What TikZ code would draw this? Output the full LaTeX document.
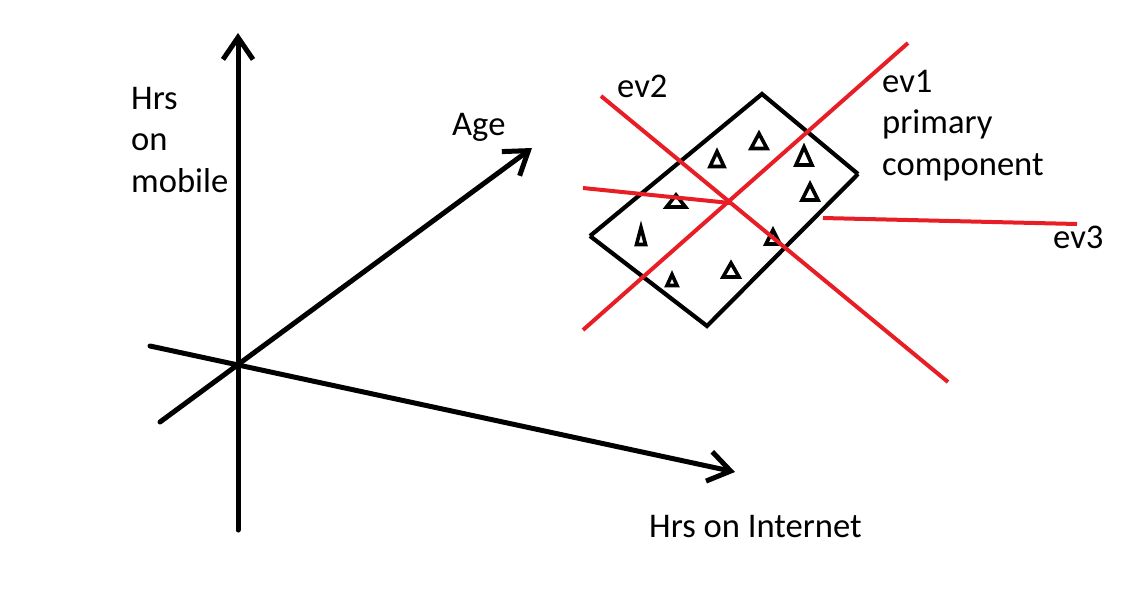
\documentclass[tikz,border=0pt]{standalone}
\usepackage{fontspec}
\setmainfont{Carlito}
\usetikzlibrary{arrows.meta}
\definecolor{pred}{RGB}{232,30,38}
\tikzset{
  axis/.style={line width=5pt, line cap=round, line join=round,
    -{Straight Barb[length=22pt,width=30pt,line width=5pt]}},
  box/.style={line width=4.2pt, line join=miter},
  evline/.style={pred, line width=4pt},
  trist/.style={line width=3.6pt, line join=miter},
  lbl/.style={font=\fontsize{34.6}{41.5}\selectfont, inner sep=0pt, align=left, anchor=north west}
}
\newcommand\tri[4]{\draw[trist] (#1-#3/2,#2+#4/2) -- (#1,#2-#4/2) -- (#1+#3/2,#2+#4/2) -- cycle;}
\begin{document}
\begin{tikzpicture}[x=1pt,y=-1pt]
\useasboundingbox (0,0) rectangle (1146,590);
% axes
\coordinate (vb) at (238,530);
\coordinate (vt) at (238,33);
\coordinate (ab) at (160,422);
\coordinate (at) at (532,148);
\coordinate (ib) at (150,346);
\coordinate (it) at (735,472);
\draw[axis] (vb) -- (vt);
\draw[axis] (ab) -- (at);
\draw[axis] (ib) -- (it);
% box
\coordinate (bt) at (762,94);
\coordinate (br) at (858,174);
\coordinate (bb) at (707,326);
\coordinate (bl) at (590,236);
\draw[box] (bl) -- (bt) -- (br);
\draw[box] (bl) -- (bb) -- (br);
% triangles
\tri{759}{141}{16}{15}
\tri{717}{159}{14}{15}
\tri{804}{156}{16}{18}
\tri{810}{192}{16}{16}
\tri{676}{201}{19}{12}
\tri{641}{236}{9}{17}
\tri{773}{237}{14}{14}
\tri{672}{280}{10}{11}
\tri{731}{270}{16}{14}
% red lines
\coordinate (e1a) at (583,330);
\coordinate (e1b) at (908,43);
\coordinate (e2a) at (601,96);
\coordinate (e2b) at (948,382);
\coordinate (sa) at (583,188);
\coordinate (sb) at (730,203);
\coordinate (e3a) at (823,218);
\coordinate (e3b) at (1077,224);
\draw[evline] (e1a) -- (e1b);
\draw[evline] (e2a) -- (e2b);
\draw[evline] (sa) -- (sb);
\draw[evline] (e3a) -- (e3b);
% labels
\node[lbl] (lmob) at (131,87) {Hrs\\on\\mobile};
\node[lbl] (lage) at (452,113) {Age};
\node[lbl] (lev2) at (617,75) {ev2};
\node[lbl] (lev1) at (882,70) {ev1\\primary\\component};
\node[lbl] (lev3) at (1053,226) {ev3};
\node[lbl] (lint) at (649,515) {Hrs on Internet};
\end{tikzpicture}
\end{document}
